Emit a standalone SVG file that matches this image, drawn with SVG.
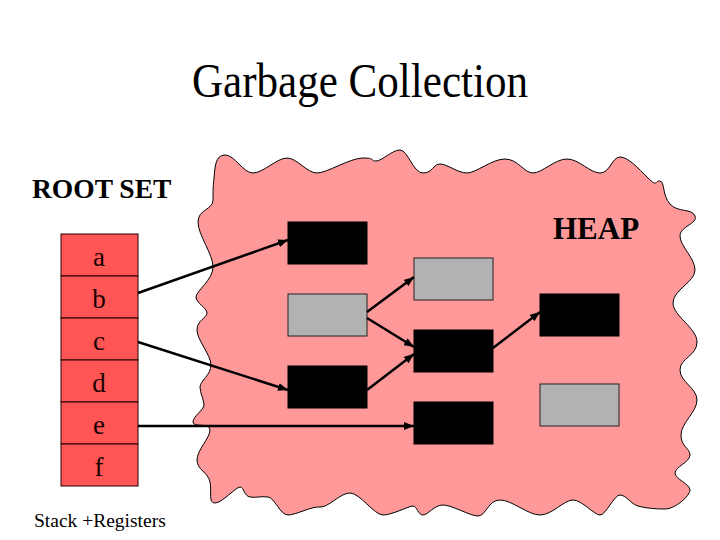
<svg xmlns="http://www.w3.org/2000/svg" width="720" height="540" viewBox="0 0 720 540">
<style>
.t{font-family:"Liberation Serif","Times New Roman",serif;fill:#000}
.cell{fill:#ff5555;stroke:#200;stroke-width:1}
.lbl{font-family:"Liberation Serif","Times New Roman",serif;font-size:27px;fill:#1a0000;text-anchor:middle}
.blk{fill:#000;stroke:#000;stroke-width:1}
.gry{fill:#b2b2b2;stroke:#222;stroke-width:1}
.conn{stroke:#000;stroke-width:2.5;fill:none;marker-end:url(#ah)}
</style>
<defs>
<marker id="ah" markerUnits="userSpaceOnUse" markerWidth="10" markerHeight="8" refX="10" refY="4" orient="auto">
<path d="M0,0 L10,4 L0,8 z" fill="#000"/>
</marker>
</defs>
<rect width="720" height="540" fill="#fff"/>
<text class="t" x="192" y="97" font-size="48" textLength="336" lengthAdjust="spacingAndGlyphs">Garbage Collection</text>
<text class="t" x="32" y="198" font-size="27.5" font-weight="bold">ROOT SET</text>
<text class="t" x="34" y="527" font-size="19.5">Stack +Registers</text>
<g id="heap">
<path fill="#ff9999" stroke="#000" stroke-width="1" d="M225 155 C235 155 243 173 253 173 S277 158 287 158 S307 173 317 173 S350 158 363 158 S370 161 376 161 S392 150 400 150 S413 173 423 173 S433 164 440 164 S458 173 467 173 S492 159 505 159 S524 173 533 173 S555 159 567 159 S590 173 600 173 S612 157 620 157 S638 168 648 178 S655 180 660 181 S662 195 670 204 S692 208 695 216 S680 226 680 236 S695 258 695 270 S673 290 673 303 S697 328 697 342 S680 358 680 370 S697 388 697 400 S681 423 681 435 S690 448 690 455 S675 467 675 473 S690 484 690 490 S675 509 665 509 S645 508 638 506 S626 495 620 495 S606 515 600 515 S582 500 573 500 S552 515 540 515 S512 500 500 500 S486 516 478 516 S452 505 443 505 S428 515 423 515 S417 506 413 506 S392 515 383 515 S360 493 350 493 S328 508 320 507 S296 515 288 515 S275 498 268 497 S256 498 250 497 S244 487 240 487 S222 503 215 503 S212 492 210 482 S197 470 197 460 S210 438 210 430 S193 428 193 422 S204 410 204 405 S200 393 200 387 S211 375 211 365 S197 340 197 330 S207 318 207 313 S196 303 196 297 S213 280 213 267 S198 235 198 222 S213 210 213 200 S213 188 214 178 S215 155 225 155 Z"/>
<text class="t" x="553" y="239" font-size="31" font-weight="bold">HEAP</text>
</g>
<g id="stack">
<rect class="cell" x="61" y="234" width="77" height="42"/>
<rect class="cell" x="61" y="276" width="77" height="42"/>
<rect class="cell" x="61" y="318" width="77" height="42"/>
<rect class="cell" x="61" y="360" width="77" height="42"/>
<rect class="cell" x="61" y="402" width="77" height="42"/>
<rect class="cell" x="61" y="444" width="77" height="42"/>
<text class="lbl" x="99" y="266">a</text>
<text class="lbl" x="99" y="308">b</text>
<text class="lbl" x="99" y="350">c</text>
<text class="lbl" x="99" y="392">d</text>
<text class="lbl" x="99" y="434">e</text>
<text class="lbl" x="99" y="476">f</text>
</g>
<g id="obj1"><rect class="blk" x="288" y="222" width="79" height="42"/></g>
<g id="obj2"><rect class="gry" x="288" y="294" width="79" height="42"/></g>
<g id="obj3"><rect class="blk" x="288" y="366" width="79" height="42"/></g>
<g id="obj4"><rect class="gry" x="414" y="258" width="79" height="42"/></g>
<g id="obj5"><rect class="blk" x="414" y="330" width="79" height="42"/></g>
<g id="obj6"><rect class="blk" x="414" y="402" width="79" height="42"/></g>
<g id="obj7"><rect class="blk" x="540" y="294" width="79" height="42"/></g>
<g id="obj8"><rect class="gry" x="540" y="384" width="79" height="42"/></g>
<g id="connectors">
<line class="conn" x1="138" y1="293" x2="288" y2="240"/>
<line class="conn" x1="138" y1="342" x2="288" y2="390"/>
<line class="conn" x1="138" y1="426" x2="414" y2="426" stroke-width="2"/>
<line class="conn" x1="367" y1="312" x2="414" y2="277"/>
<line class="conn" x1="367" y1="318" x2="414" y2="347"/>
<line class="conn" x1="367" y1="390" x2="414" y2="354"/>
<line class="conn" x1="493" y1="348" x2="540" y2="312"/>
</g>
</svg>
